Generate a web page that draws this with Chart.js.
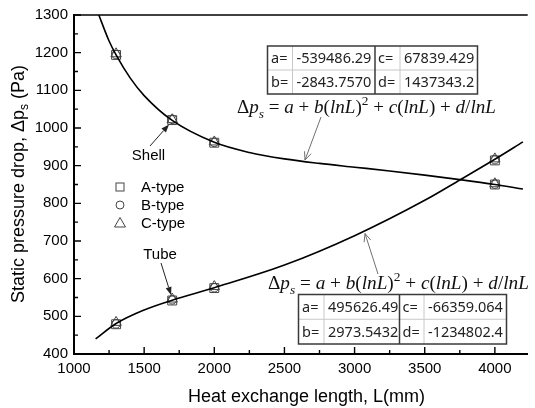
<!DOCTYPE html>
<html><head><meta charset="utf-8">
<script src="https://cdn.jsdelivr.net/npm/chart.js@4.4.1/dist/chart.umd.min.js"></script>
<style>html,body{margin:0;padding:0;background:#fff;}canvas{display:block}</style>
</head><body>
<canvas id="c" width="535" height="408"></canvas>
<script>
// ---- data ----
const sampleLengths = [1300, 1700, 2000, 4000];
const shellA = [1194, 1021, 961, 850];
const shellB = [1195, 1023, 962, 851];
const shellC = [1197, 1022, 963, 852];
const tubeA = [479, 542, 575, 914];
const tubeB = [480, 544, 576, 916];
const tubeC = [484, 546, 579, 918];
const shellFitL  = [1177, 1250, 1300, 1400, 1500, 1700, 2000, 2250, 2500, 2750, 3000, 3250, 3500, 3750, 4000, 4200];
const shellFitDp = [1300, 1231, 1194, 1133, 1086, 1020, 962, 935, 918, 906, 896, 886, 875, 863, 850, 838];
const tubeFitL  = [1154, 1300, 1500, 1700, 2000, 2500, 3000, 3500, 3750, 4000, 4200];
const tubeFitDp = [440, 481, 517, 543, 576, 636, 714, 808, 862, 917, 963];
const xTickValues = [1000, 1500, 2000, 2500, 3000, 3500, 4000];
const yTickValues = [400, 500, 600, 700, 800, 900, 1000, 1100, 1200, 1300];
const legendLabels = ['A-type', 'B-type', 'C-type'];
const shellCoefs = [['a=', '-539486.29', 'c=', '67839.429'], ['b=', '-2843.7570', 'd=', '1437343.2']];
const tubeCoefs = [['a=', '495626.49', 'c=', '-66359.064'], ['b=', '2973.5432', 'd=', '-1234802.4']];

const pts = (xs, ys) => xs.map((x, i) => ({x, y: ys[i]}));
const SANS = '"Liberation Sans", Arial, sans-serif';
const MARK = '#444';

function markerDS(data, style, r) {
  return {data, showLine: false, pointStyle: style, pointRadius: r, pointHoverRadius: r,
    borderColor: MARK, backgroundColor: 'rgba(0,0,0,0)', pointBorderWidth: 1, borderWidth: 1};
}
function curveDS(data) {
  return {data, showLine: true, pointRadius: 0, borderColor: '#000', borderWidth: 1.6,
    cubicInterpolationMode: 'monotone', fill: false};
}

function arrowFilled(ctx, x1, y1, x2, y2, color) {
  const a = Math.atan2(y2 - y1, x2 - x1), L = 8, W = 3;
  ctx.strokeStyle = color; ctx.fillStyle = color; ctx.lineWidth = 1;
  ctx.beginPath(); ctx.moveTo(x1, y1); ctx.lineTo(x2 - L * Math.cos(a), y2 - L * Math.sin(a)); ctx.stroke();
  ctx.beginPath(); ctx.moveTo(x2, y2);
  ctx.lineTo(x2 - L * Math.cos(a) + W * Math.sin(a), y2 - L * Math.sin(a) - W * Math.cos(a));
  ctx.lineTo(x2 - L * Math.cos(a) - W * Math.sin(a), y2 - L * Math.sin(a) + W * Math.cos(a));
  ctx.closePath(); ctx.fill();
}
function arrowOpen(ctx, x1, y1, x2, y2, color) {
  const a = Math.atan2(y2 - y1, x2 - x1), L = 8, W = 3.5;
  ctx.strokeStyle = color; ctx.lineWidth = 1;
  ctx.beginPath(); ctx.moveTo(x1, y1); ctx.lineTo(x2, y2); ctx.stroke();
  ctx.beginPath();
  ctx.moveTo(x2 - L * Math.cos(a) + W * Math.sin(a), y2 - L * Math.sin(a) - W * Math.cos(a));
  ctx.lineTo(x2, y2);
  ctx.lineTo(x2 - L * Math.cos(a) - W * Math.sin(a), y2 - L * Math.sin(a) + W * Math.cos(a));
  ctx.stroke();
}

function formulaPieces() {
  return [
    ['Δ', 'n', 0], ['p', 'i', 0], ['s', 'i', 1], [' = ', 'n', 0], ['a', 'i', 0], [' + ', 'n', 0],
    ['b', 'i', 0], ['(', 'n', 0], ['lnL', 'i', 0], [')', 'n', 0], ['2', 'n', 2], [' + ', 'n', 0],
    ['c', 'i', 0], ['(', 'n', 0], ['lnL', 'i', 0], [')', 'n', 0], [' + ', 'n', 0],
    ['d', 'i', 0], ['/', 'n', 0], ['lnL', 'i', 0]
  ];
}
function drawFormula(ctx, x, base, target) {
  const SERIF = '"Liberation Serif", "DejaVu Serif", serif';
  const pieces = formulaPieces();
  const font = (p, s) => (p[1] === 'i' ? 'italic ' : '') + (p[2] ? s * 0.7 : s) + 'px ' + SERIF;
  let w = 0;
  for (const p of pieces) { ctx.font = font(p, 100); w += ctx.measureText(p[0]).width; }
  const size = 100 * target / w;
  ctx.fillStyle = '#111'; ctx.textAlign = 'left'; ctx.textBaseline = 'alphabetic';
  let cx = x;
  for (const p of pieces) {
    ctx.font = font(p, size);
    const dy = p[2] === 1 ? size * 0.25 : (p[2] === 2 ? -size * 0.42 : 0);
    ctx.fillText(p[0], cx, base + dy);
    cx += ctx.measureText(p[0]).width;
  }
}
function drawTable(ctx, L, T, R, B, cols, rows) {
  const midY = (T + B) / 2;
  ctx.lineWidth = 1; ctx.strokeStyle = '#c8c8c8';
  ctx.beginPath();
  ctx.moveTo(L, midY); ctx.lineTo(R, midY);
  ctx.moveTo(cols[0], T); ctx.lineTo(cols[0], B);
  ctx.moveTo(cols[2], T); ctx.lineTo(cols[2], B);
  ctx.stroke();
  ctx.strokeStyle = '#3a3a3a'; ctx.lineWidth = 1.5;
  ctx.strokeRect(L, T, R - L, B - T);
  ctx.beginPath(); ctx.moveTo(cols[1], T); ctx.lineTo(cols[1], B); ctx.stroke();
  ctx.fillStyle = '#222'; ctx.font = '14.5px "Noto Sans", "Open Sans", sans-serif';
  ctx.textAlign = 'left'; ctx.textBaseline = 'middle';
  const xs = [L + 3.5, cols[0] + 4, cols[1] + 3, cols[2] + 4];
  rows.forEach((row, r) => {
    const cy = r === 0 ? (T + midY) / 2 + 1 : (midY + B) / 2 + 1;
    row.forEach((t, i) => ctx.fillText(t, xs[i], cy));
  });
}

const annot = {
  id: 'annot',
  afterDraw(chart) {
    const ctx = chart.ctx, xs = chart.scales.x, ys = chart.scales.y;
    const {left, right, top, bottom} = chart.chartArea;
    ctx.save();
    // frame top
    ctx.strokeStyle = '#000'; ctx.lineWidth = 1.5;
    ctx.beginPath(); ctx.moveTo(left, top); ctx.lineTo(right, top); ctx.stroke();
    // inward ticks
    ctx.lineWidth = 1.4;
    ctx.beginPath();
    xTickValues.forEach((v, i) => {
      const px = xs.getPixelForValue(v);
      ctx.moveTo(px, bottom); ctx.lineTo(px, bottom - 7);
      if (i < xTickValues.length - 1) {
        const m = xs.getPixelForValue((v + xTickValues[i + 1]) / 2);
        ctx.moveTo(m, bottom); ctx.lineTo(m, bottom - 4);
      }
    });
    yTickValues.forEach((v, i) => {
      const py = ys.getPixelForValue(v);
      ctx.moveTo(left, py); ctx.lineTo(left + 7, py);
      if (i < yTickValues.length - 1) {
        const m = ys.getPixelForValue((v + yTickValues[i + 1]) / 2);
        ctx.moveTo(left, m); ctx.lineTo(left + 4, m);
      }
    });
    ctx.stroke();

    // legend
    const legY = [187, 205, 223];
    ctx.strokeStyle = MARK; ctx.lineWidth = 1;
    ctx.strokeRect(116, legY[0] - 4, 8, 8);
    ctx.beginPath(); ctx.arc(120, legY[1], 4, 0, Math.PI * 2); ctx.stroke();
    ctx.beginPath(); ctx.moveTo(120, legY[2] - 5.5); ctx.lineTo(125.5, legY[2] + 4); ctx.lineTo(114.5, legY[2] + 4); ctx.closePath(); ctx.stroke();
    ctx.fillStyle = '#000'; ctx.font = '15px ' + SANS; ctx.textAlign = 'left'; ctx.textBaseline = 'middle';
    legendLabels.forEach((t, i) => ctx.fillText(t, 141, legY[i] + 1));

    // Shell / Tube labels
    ctx.textAlign = 'center';
    ctx.fillText('Shell', 148.5, 156);
    ctx.fillText('Tube', 160, 255);
    arrowFilled(ctx, 150, 146, 169, 124.5, '#222');
    arrowFilled(ctx, 161, 263, 171, 295, '#222');

    // fit tables and formulas
    drawTable(ctx, 267.5, 46, 477.5, 94, [292.5, 375, 400], shellCoefs);
    drawTable(ctx, 298.5, 294.5, 506.5, 344, [324, 399.5, 424], tubeCoefs);
    drawFormula(ctx, 237, 113, 259);
    drawFormula(ctx, 268, 289, 261);
    arrowOpen(ctx, 321, 117, 305, 160, '#707070');
    arrowOpen(ctx, 378, 274, 365, 233.5, '#707070');

    // axis titles
    ctx.fillStyle = '#000'; ctx.textBaseline = 'middle'; ctx.textAlign = 'left';
    ctx.font = '18px ' + SANS;
    const xt = 'Heat exchange length, L(mm)';
    ctx.fillText(xt, 306.5 - ctx.measureText(xt).width / 2, 397);
    // y title rotated
    ctx.translate(19, 184); ctx.rotate(-Math.PI / 2);
    const p1 = 'Static pressure drop, Δp', p3 = ' (Pa)';
    ctx.font = '18px ' + SANS; const w1 = ctx.measureText(p1).width, w3 = ctx.measureText(p3).width;
    ctx.font = '12px ' + SANS; const w2 = ctx.measureText('s').width;
    let sx = -(w1 + w2 + w3) / 2;
    ctx.font = '18px ' + SANS; ctx.fillText(p1, sx, 0); sx += w1;
    ctx.font = '12px ' + SANS; ctx.fillText('s', sx, 6); sx += w2;
    ctx.font = '18px ' + SANS; ctx.fillText(p3, sx, 0);
    ctx.restore();
  }
};

new Chart(document.getElementById('c'), {
  type: 'scatter',
  data: {
    datasets: [
      curveDS(pts(shellFitL, shellFitDp)),
      curveDS(pts(tubeFitL, tubeFitDp)),
      markerDS(pts(sampleLengths, shellA), 'rect', 6.3),
      markerDS(pts(sampleLengths, shellB), 'circle', 4.3),
      markerDS(pts(sampleLengths, shellC), 'triangle', 6),
      markerDS(pts(sampleLengths, tubeA), 'rect', 6.3),
      markerDS(pts(sampleLengths, tubeB), 'circle', 4.3),
      markerDS(pts(sampleLengths, tubeC), 'triangle', 6)
    ]
  },
  options: {
    responsive: false, animation: false, devicePixelRatio: 1,
    layout: {padding: {top: 14, right: 0, bottom: 0, left: 0}},
    plugins: {legend: {display: false}, tooltip: {enabled: false}},
    scales: {
      x: {
        type: 'linear', min: 1000, max: 4234,
        afterBuildTicks: s => { s.ticks = xTickValues.map(v => ({value: v})); },
        afterFit: s => { s.height = 54; },
        grid: {display: false, drawTicks: false},
        border: {display: true, color: '#000', width: 2},
        ticks: {color: '#000', font: {family: SANS, size: 15}, padding: 6, maxRotation: 0,
          callback: v => String(v)}
      },
      y: {
        type: 'linear', min: 400, max: 1300,
        afterBuildTicks: s => { s.ticks = yTickValues.map(v => ({value: v})); },
        afterFit: s => { s.width = 74; },
        grid: {display: false, drawTicks: false},
        border: {display: true, color: '#000', width: 2},
        ticks: {color: '#000', font: {family: SANS, size: 15}, padding: 6,
          callback: v => String(v)}
      }
    }
  },
  plugins: [annot]
});
</script>
</body></html>
